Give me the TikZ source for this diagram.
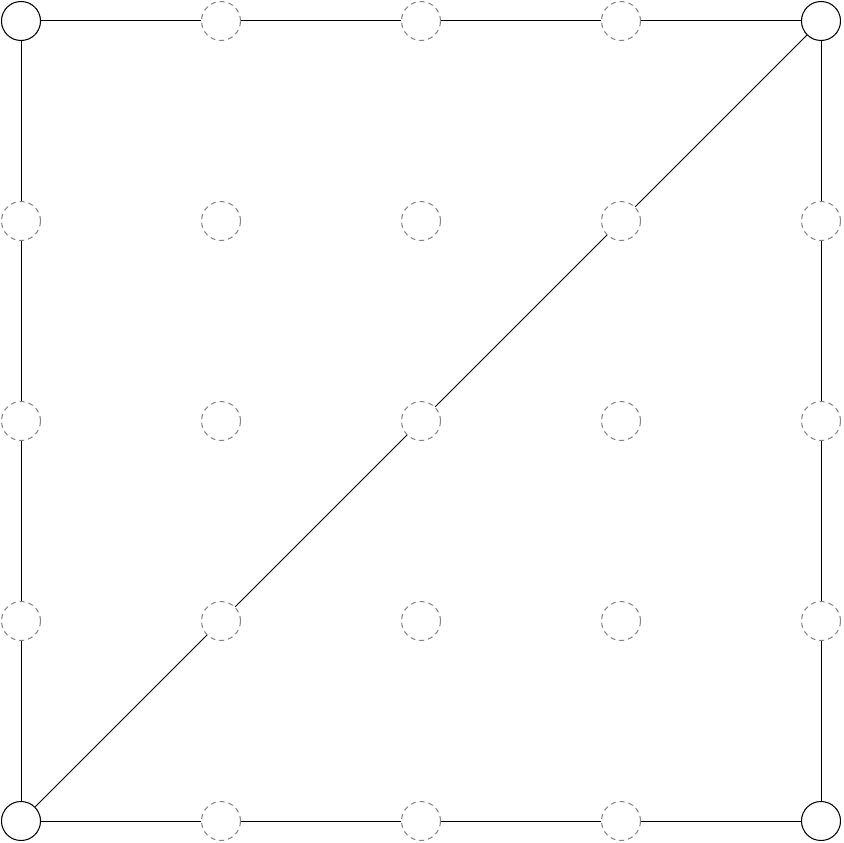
\documentclass[tikz,border=0pt]{standalone}
\begin{document}
\begin{tikzpicture}[x=1pt,y=-1pt,
  corner/.style={circle,draw=black,line width=1pt,minimum size=39pt,inner sep=0pt,fill=white},
  ghost/.style={circle,draw=gray,line width=1pt,dash pattern=on 5pt off 4pt,minimum size=39pt,inner sep=0pt},
  link/.style={draw=black,line width=1pt}]
\useasboundingbox (0,0) rectangle (843,843);
\foreach \i in {0,...,4}{
  \foreach \j in {0,...,4}{
    \pgfmathtruncatemacro{\xx}{21+200*\i}
    \pgfmathtruncatemacro{\yy}{21+200*\j}
    \node[ghost] (n\i\j) at (\xx,\yy) {};
  }
}
\node[corner] (c00) at (21,21) {};
\node[corner] (c40) at (821,21) {};
\node[corner] (c04) at (21,821) {};
\node[corner] (c44) at (821,821) {};
% top edge
\draw[link] (c00) -- (n10);
\draw[link] (n10) -- (n20);
\draw[link] (n20) -- (n30);
\draw[link] (n30) -- (c40);
% bottom edge
\draw[link] (c04) -- (n14);
\draw[link] (n14) -- (n24);
\draw[link] (n24) -- (n34);
\draw[link] (n34) -- (c44);
% left edge
\draw[link] (c00) -- (n01);
\draw[link] (n01) -- (n02);
\draw[link] (n02) -- (n03);
\draw[link] (n03) -- (c04);
% right edge
\draw[link] (c40) -- (n41);
\draw[link] (n41) -- (n42);
\draw[link] (n42) -- (n43);
\draw[link] (n43) -- (c44);
% diagonal
\draw[link] (c04) -- (n13);
\draw[link] (n13) -- (n22);
\draw[link] (n22) -- (n31);
\draw[link] (n31) -- (c40);
\end{tikzpicture}
\end{document}
